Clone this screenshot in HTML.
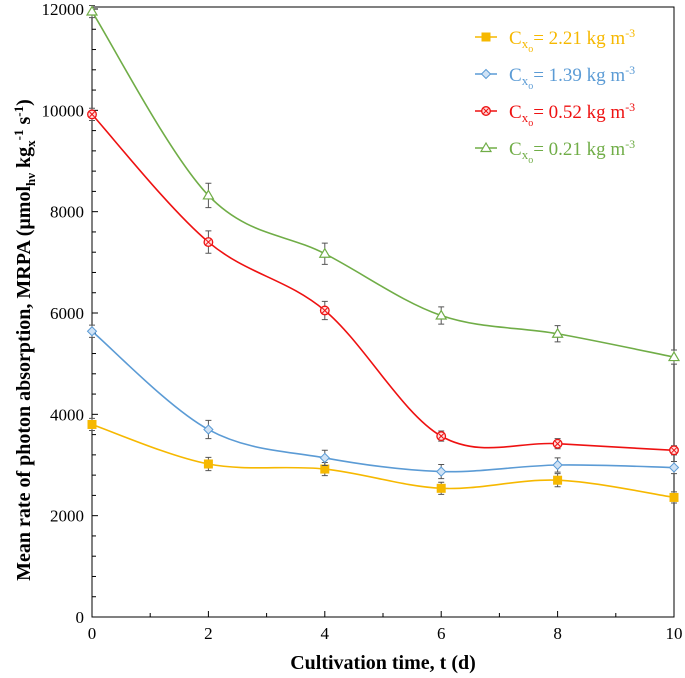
<!DOCTYPE html>
<html><head><meta charset="utf-8"><style>
body{margin:0;background:#fff}
svg{display:block;font-family:"Liberation Serif",serif}
</style></head><body>
<svg id="c" width="685" height="678"></svg>
<script>
const xs=[0,2,4,6,8,10];
const xTicks=[0,2,4,6,8,10];
const yTicks=[0,2000,4000,6000,8000,10000,12000];
const s221=[3800,3020,2920,2540,2700,2360];
const e221=[120,130,130,120,130,110];
const s139=[5640,3700,3140,2870,3000,2950];
const e139=[120,180,150,140,140,120];
const s052=[9920,7400,6050,3570,3420,3290];
const e052=[120,220,180,100,100,90];
const s021=[11950,8320,7170,5950,5590,5130];
const e021=[120,240,210,170,160,140];
const names=["2.21","1.39","0.52","0.21"];
const colors=["#F6B800","#5B9BD5","#EE1111","#70AD47"];
const series=[s221,s139,s052,s021];
const errs=[e221,e139,e052,e021];
const L=92,R=674,T=9,B=617;
const X=v=>L+(v-0)/10*(R-L);
const Y=v=>B-v/12000*(B-T);
const svg=document.getElementById('c');
const NS='http://www.w3.org/2000/svg';
function mk(t,a,p){const e=document.createElementNS(NS,t);for(const k in a)e.setAttribute(k,a[k]);(p||svg).appendChild(e);return e;}
let e;
e=mk('rect',{x:L,y:T-2,width:R-L,height:B-T+2,fill:'none',stroke:'#000','stroke-width':1});

for(let v=0;v<=12000;v+=400){const big=v%2000===0;mk('line',{x1:L,x2:L+(big?6:4),y1:Y(v),y2:Y(v),stroke:'#000'});}
for(let v=0;v<=10;v+=1){mk('line',{x1:X(v),x2:X(v),y1:B,y2:B-(v%2===0?6:4),stroke:'#000'});}
yTicks.forEach(v=>{e=mk('text',{x:L-8,y:Y(v)+6,'text-anchor':'end','font-size':17});e.textContent=v;
});
xTicks.forEach(v=>{e=mk('text',{x:X(v),y:B+22,'text-anchor':'middle','font-size':17});e.textContent=v;
});
e=mk('text',{x:383,y:669,'text-anchor':'middle','font-size':20,'font-weight':'bold'});e.textContent='Cultivation time, t (d)';

e=mk('text',{transform:'translate(30,340) rotate(-90)','text-anchor':'middle','font-size':20,'font-weight':'bold'});
e.innerHTML='Mean rate of photon absorption, MRPA (μmol<tspan font-size="13" dy="5">hν</tspan><tspan dy="-5"> kg</tspan><tspan font-size="13" dy="5">x</tspan><tspan font-size="13" dy="-12">-1</tspan><tspan dy="7"> s</tspan><tspan font-size="13" dy="-7">-1</tspan><tspan dy="7">)</tspan>';

function path(pts){let d=`M${pts[0][0]},${pts[0][1]}`;for(let i=0;i<pts.length-1;i++){const p0=pts[i-1]||pts[i],p1=pts[i],p2=pts[i+1],p3=pts[i+2]||p2;
d+=` C${p1[0]+(p2[0]-p0[0])/6},${p1[1]+(p2[1]-p0[1])/6} ${p2[0]-(p3[0]-p1[0])/6},${p2[1]-(p3[1]-p1[1])/6} ${p2[0]},${p2[1]}`;}return d;}
function marker(k,x,y,g){const c=colors[k];
if(k===0)mk('rect',{x:x-4.5,y:y-4.5,width:9,height:9,fill:c},g);
else if(k===1)mk('path',{d:`M${x},${y-4.5}L${x+4.5},${y}L${x},${y+4.5}L${x-4.5},${y}Z`,fill:'#cfe2f5',stroke:c},g);
else if(k===2){mk('circle',{cx:x,cy:y,r:4.3,fill:'#fdd',stroke:c,'stroke-width':1.3},g);mk('path',{d:`M${x-2.5},${y-2.5}L${x+2.5},${y+2.5}M${x+2.5},${y-2.5}L${x-2.5},${y+2.5}`,stroke:c},g);}
else mk('path',{d:`M${x},${y-5}L${x+5},${y+3.5}L${x-5},${y+3.5}Z`,fill:'#fff',stroke:c,'stroke-width':1.2},g);}
series.forEach((s,k)=>{const g=mk('g',{});
const pts=xs.map((x,i)=>[X(x),Y(s[i])]);
mk('path',{d:path(pts),fill:'none',stroke:colors[k],'stroke-width':1.6},g);
xs.forEach((x,i)=>{const px=X(x),e1=errs[k][i];mk('path',{d:`M${px},${Y(s[i]+e1)}V${Y(s[i]-e1)}M${px-3},${Y(s[i]+e1)}h6M${px-3},${Y(s[i]-e1)}h6`,stroke:'#555'},g);
marker(k,px,Y(s[i]),g);});});
names.forEach((n,k)=>{const y=37+k*37;const g=mk('g',{});
mk('line',{x1:475,x2:497,y1:y,y2:y,stroke:colors[k],'stroke-width':1.6},g);marker(k,486,y,g);
const t=mk('text',{x:509,y:y+7,fill:colors[k],'font-size':19},g);
t.innerHTML=`C<tspan font-size="13" dy="4">x</tspan><tspan font-size="10" dy="4">o</tspan><tspan dy="-8">= ${n} kg m</tspan><tspan font-size="12" dy="-7">-3</tspan>`;});
</script>
</body></html>
